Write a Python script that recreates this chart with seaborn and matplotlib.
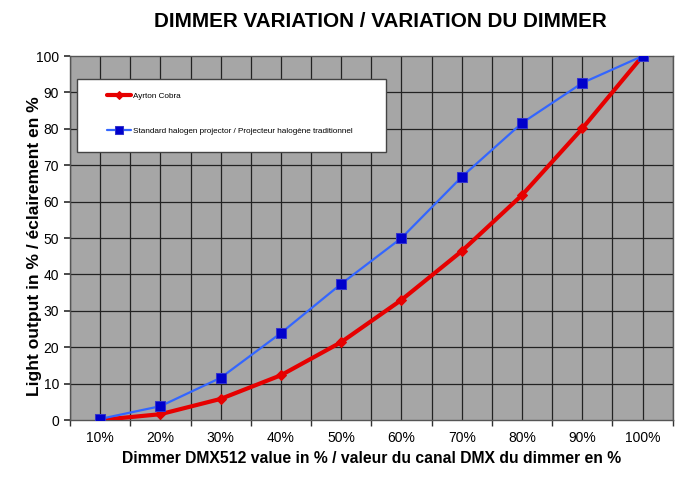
import matplotlib
matplotlib.use("Agg")
import matplotlib.pyplot as plt
from matplotlib.patches import Rectangle
import seaborn as sns
import pandas as pd
import numpy as np

categories = ["10%", "20%", "30%", "40%", "50%", "60%", "70%", "80%", "90%", "100%"]
ayrton = [0, 1.6, 5.8, 12.3, 21.4, 33, 46.4, 61.8, 80.1, 100]
halogen = [0.3, 3.8, 11.6, 23.9, 37.4, 50, 66.8, 81.6, 92.6, 100]
name_a = "Ayrton Cobra"
name_h = "Standard halogen projector / Projecteur halogène traditionnel"

sns.set_theme(style="white")
plt.rcParams['font.family'] = ['Liberation Sans', 'DejaVu Sans']
plt.rcParams['text.color'] = 'black'
plt.rcParams['axes.labelcolor'] = 'black'
plt.rcParams['xtick.color'] = 'black'
plt.rcParams['ytick.color'] = 'black'

pos = np.arange(len(categories))
df_a = pd.DataFrame({"x": pos, "y": ayrton})
df_h = pd.DataFrame({"x": pos, "y": halogen})

fig = plt.figure(figsize=(7, 4.78), dpi=100)
fig.patch.set_facecolor("white")
ax = fig.add_axes([0.1, 0.1213, 0.861, 0.7615])
ax.set_facecolor("#a6a6a6")

sns.lineplot(data=df_a, x="x", y="y", ax=ax, color="#e60000", linewidth=3,
             marker="D", markersize=5, markeredgecolor="#e60000",
             markerfacecolor="#e60000", label=name_a, zorder=4)
sns.lineplot(data=df_h, x="x", y="y", ax=ax, color="#3366ff", linewidth=1.6,
             marker="s", markersize=7, markeredgecolor="#3333cc",
             markerfacecolor="#0000cc", label=name_h, zorder=5)

ax.set_xlim(-0.5, len(categories) - 0.5)
ax.set_ylim(0, 100)
ax.set_yticks(np.arange(0, 101, 10))
ax.set_yticklabels([str(v) for v in range(0, 101, 10)], fontsize=10)
ax.set_xticks(pos)
ax.set_xticklabels(categories, fontsize=10)
ax.set_xticks(np.arange(-0.5, len(categories), 1.0), minor=True)
ax.tick_params(axis="x", which="major", length=0, pad=8)
ax.tick_params(axis="x", which="minor", length=4, color="#333333", direction="out", bottom=True)
ax.tick_params(axis="y", which="major", length=4, color="#333333", direction="out", left=True, pad=4)

for v in np.arange(-0.5, len(categories), 0.5):
    ax.axvline(v, color="#222222", linewidth=0.9, zorder=1)
for v in range(10, 100, 10):
    ax.axhline(v, color="#222222", linewidth=0.9, zorder=1)

for s in ax.spines.values():
    s.set_color("#555555")
    s.set_linewidth(1.0)

ax.set_xlabel("Dimmer DMX512 value in % / valeur du canal DMX du dimmer en %",
              fontsize=11.3, fontweight="bold", labelpad=4)
ax.set_ylabel("Light output in % / éclairement en %", fontsize=12.5,
              fontweight="bold")
ax.yaxis.set_label_coords(-0.0464, 0.478)
fig.text(0.543, 0.954, "DIMMER VARIATION / VARIATION DU DIMMER", ha="center",
         va="center", fontsize=14.9, fontweight="bold")

# legend box
ax.add_patch(Rectangle((0.0116, 0.736), 0.512, 0.2005, transform=ax.transAxes,
                       facecolor="white", edgecolor="#444444", linewidth=1.0,
                       zorder=9))
leg = ax.legend(loc="upper left", bbox_to_anchor=(0.061, 0.9), fontsize=5.9,
                frameon=False, labelspacing=3.35, handlelength=3.0,
                handletextpad=0.15, borderpad=0, borderaxespad=0, markerscale=0.8)
leg.set_zorder(10)
for t in leg.get_texts():
    t.set_color("black")

fig.savefig("out.png", dpi=100, facecolor="white")
